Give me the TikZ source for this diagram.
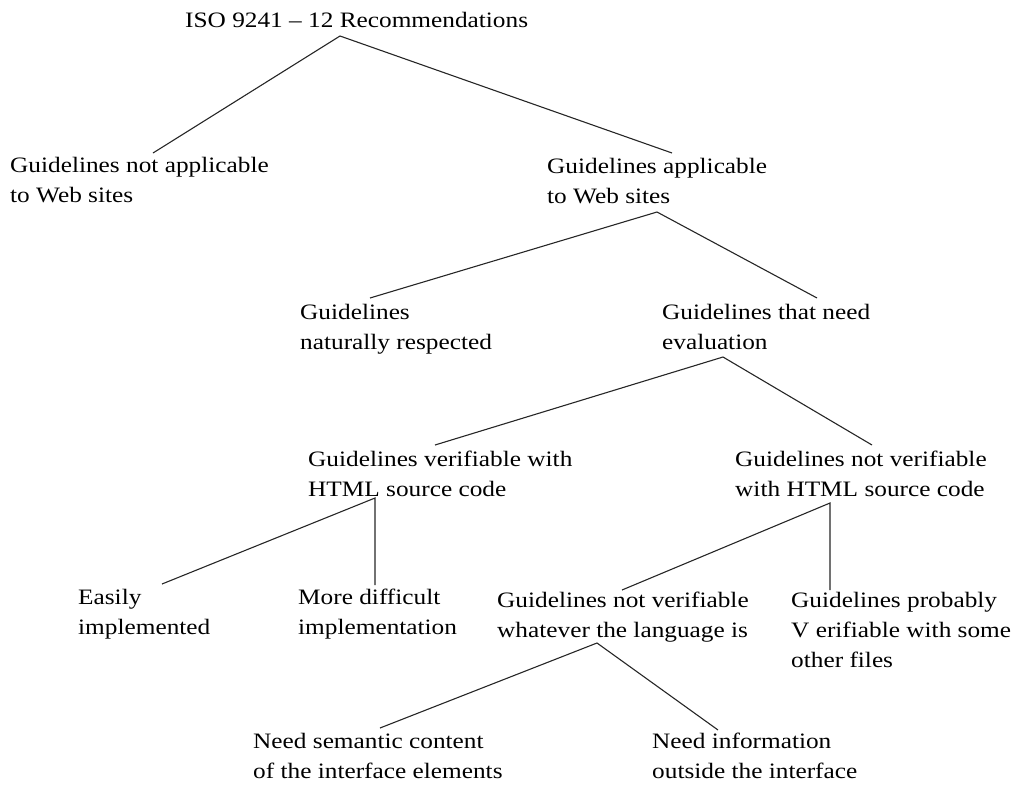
\documentclass[tikz,border=0pt]{standalone}
\usepackage{fontspec}
\setmainfont{Liberation Serif}[FakeStretch=1.15]
\begin{document}
\begin{tikzpicture}[x=1pt,y=-1pt,
  label/.style={anchor=base west,inner sep=0pt,align=left,
    font=\fontsize{22}{30}\selectfont},
  branch/.style={line width=1.1pt,draw=black!85}]
\useasboundingbox (0,0) rectangle (1015,785);

% categories (each node sits on the baseline of its last line)
\node[label] (root) at (185,27) {ISO 9241 -- 12 Recommendations};
\node[label] (napp) at (10,202) {Guidelines not applicable\\to Web sites};
\node[label] (app)  at (547,203) {Guidelines applicable\\to Web sites};
\node[label] (nat)  at (300,349) {Guidelines\\naturally respected};
\node[label] (eval) at (662,349) {Guidelines that need\\evaluation};
\node[label] (ver)  at (308,496) {Guidelines verifiable with\\HTML source code};
\node[label] (nver) at (735,496) {Guidelines not verifiable\\with HTML source code};
\node[label] (easy) at (78,634) {Easily\\implemented};
\node[label] (hard) at (298,634) {More difficult\\implementation};
\node[label] (lang) at (497,637) {Guidelines not verifiable\\whatever the language is};
\node[label] (prob) at (791,667) {Guidelines probably\\V erifiable with some\\other files};
\node[label] (sem)  at (253,778) {Need semantic content\\of the interface elements};
\node[label] (out)  at (652,778) {Need information\\outside the interface};

% branch points under each parent and tips above each child
\coordinate (rootB) at (340,36);
\coordinate (nappT) at (153,153);
\coordinate (appT)  at (672,153);
\coordinate (appB)  at (657,212);
\coordinate (natT)  at (370,298);
\coordinate (evalT) at (817,298);
\coordinate (evalB) at (723,357);
\coordinate (verT)  at (435,445);
\coordinate (nverT) at (872,445);
\coordinate (verB)  at (375,498);
\coordinate (easyT) at (162,584);
\coordinate (hardT) at (375,585);
\coordinate (nverB) at (830,503);
\coordinate (langT) at (622,590);
\coordinate (probT) at (830,590);
\coordinate (langB) at (597,643);
\coordinate (semT)  at (380,728);
\coordinate (outT)  at (718,730);

% tree edges
\draw[branch] (nappT) -- (rootB) -- (appT);
\draw[branch] (natT) -- (appB) -- (evalT);
\draw[branch] (verT) -- (evalB) -- (nverT);
\draw[branch] (easyT) -- (verB) -- (hardT);
\draw[branch] (langT) -- (nverB) -- (probT);
\draw[branch] (semT) -- (langB) -- (outT);
\end{tikzpicture}
\end{document}
